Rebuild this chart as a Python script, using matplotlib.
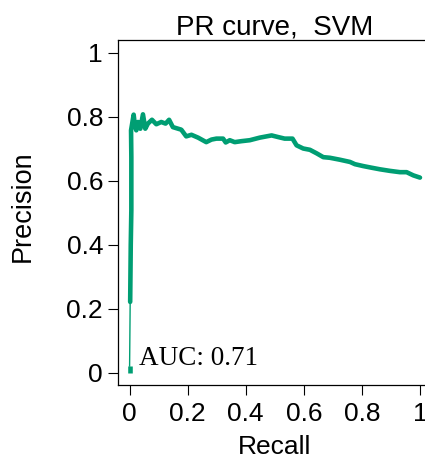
import matplotlib
matplotlib.use("Agg")
import matplotlib.pyplot as plt

# PR curve values
recall = [0.0, 0.0, 0.002, 0.004, 0.006, 0.006, 0.005, 0.014, 0.018, 0.023, 0.029,
          0.037, 0.046, 0.054, 0.063, 0.077, 0.092, 0.109, 0.124, 0.136, 0.149,
          0.167, 0.178, 0.195, 0.213, 0.236, 0.264, 0.282, 0.299, 0.322, 0.331,
          0.345, 0.362, 0.385, 0.414, 0.448, 0.489, 0.511, 0.534, 0.561, 0.575,
          0.598, 0.621, 0.644, 0.667, 0.690, 0.724, 0.759, 0.776, 0.805, 0.833,
          0.862, 0.897, 0.931, 0.954, 0.977, 1.0]
precision = [0.0, 0.02, 0.221, 0.40, 0.508, 0.674, 0.758, 0.807, 0.775, 0.758, 0.784,
             0.763, 0.808, 0.763, 0.779, 0.791, 0.777, 0.784, 0.779, 0.791, 0.768,
             0.763, 0.760, 0.739, 0.744, 0.735, 0.721, 0.729, 0.732, 0.732, 0.720,
             0.727, 0.721, 0.724, 0.727, 0.735, 0.742, 0.737, 0.732, 0.732, 0.711,
             0.701, 0.697, 0.686, 0.674, 0.672, 0.666, 0.659, 0.652, 0.646, 0.641,
             0.636, 0.631, 0.627, 0.627, 0.617, 0.610]
thin_from = 1   # the low part of the first step is drawn thin
thin_to = 2

ticks = [0, 0.2, 0.4, 0.6, 0.8, 1]
tick_labels = ["0", "0.2", "0.4", "0.6", "0.8", "1"]
auc = 0.71
green = "#009E73"

plt.rcParams["font.family"] = ["Liberation Sans", "DejaVu Sans"]

fig = plt.figure(figsize=(4.25, 4.61), dpi=100)
ax = fig.add_axes([0.2776, 0.1642, 0.7379, 0.7486])

ax.plot(recall[:thin_from + 1], precision[:thin_from + 1], color=green, lw=3.3,
        solid_capstyle="butt")
ax.plot(recall[thin_from:thin_to + 1], precision[thin_from:thin_to + 1], color=green, lw=1.0)
ax.plot(recall[thin_to:], precision[thin_to:], color=green, lw=3.3,
        solid_joinstyle="round", solid_capstyle="round")

ax.set_xlim(-0.04, 1.04)
ax.set_ylim(-0.04, 1.04)
ax.set_xticks(ticks)
ax.set_xticklabels(tick_labels)
ax.set_yticks(ticks)
ax.set_yticklabels(tick_labels)
ax.tick_params(direction="out", length=7.2, width=0.8, labelsize=19, color="black")
ax.tick_params(axis="x", pad=5)
ax.tick_params(axis="y", pad=3.5)

for side in ["left", "bottom", "top"]:
    ax.spines[side].set_linewidth(0.9)
ax.spines["right"].set_visible(False)

ax.set_title("PR curve,  SVM", fontsize=20, pad=3)
ax.set_xlabel("Recall", fontsize=19, va="center")
ax.xaxis.set_label_coords(0.5, -0.18)
ax.set_ylabel("Precision", fontsize=19.5, va="center")
ax.yaxis.set_label_coords(-0.303, 0.519)

ax.text(0.034, 0.023, "AUC: %.2f" % auc, family=["Liberation Serif", "DejaVu Serif"],
        fontsize=19.5, va="baseline", ha="left")

fig.savefig("out.png", dpi=100)
